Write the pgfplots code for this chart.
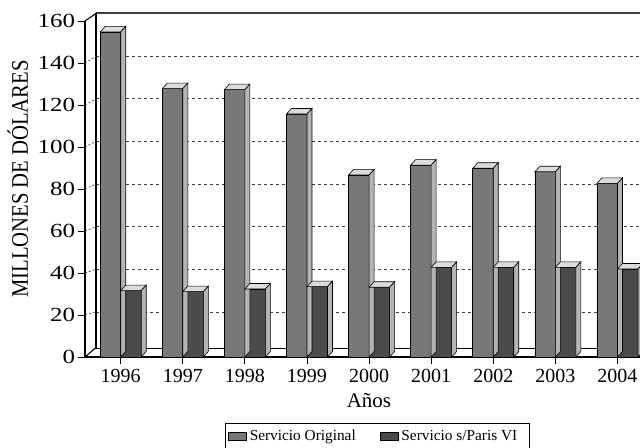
\documentclass[border=0pt]{standalone}
\usepackage{pgfplots}
\pgfplotsset{compat=1.18}
\usepackage{pgfplotstable}
\usepackage{fontspec}
\setmainfont{Liberation Serif}
\definecolor{origgray}{HTML}{787878}
\definecolor{parisgray}{HTML}{4B4B4B}
\definecolor{sidegray}{HTML}{B4B4B4}
\definecolor{topgray}{HTML}{DCDCDC}
\definecolor{gridgray}{HTML}{404040}

\pgfplotstableread{
x orig paris
0 154.8 31.6
1 127.8 31.1
2 127.3 32.4
3 115.7 33.5
4 86.7 33.2
5 91.4 42.7
6 89.9 42.7
7 88.2 42.7
8 82.7 41.9
}\bardata

\pgfdeclareplotmark{nomark}{}
% #1 left edge, #2 right edge of the front face, relative to the data point
\newcommand{\barthreeD}[2]{%
  \pgfmathsetlengthmacro\barH{\bary*1.575}%
  \path[fill=topgray,draw=black,line width=0.45pt] (#1,0pt) -- (#2,0pt) -- ++(3.75pt,4.125pt) -- ({#1+3.75pt},4.125pt) -- cycle;
  \path[fill=sidegray,draw=black,line width=0.45pt] (#2,0pt) -- ++(3.75pt,4.125pt) -- ++(0pt,-\barH) -- ++(-3.75pt,-4.125pt) -- cycle;
}

\begin{document}
\begin{tikzpicture}
% back wall with gridlines
\begin{axis}[
  at={(72pt,70pt)}, anchor=south west, scale only axis,
  width=408pt, height=256pt,
  xmin=0, xmax=1, ymin=0, ymax=160,
  xtick=\empty, ytick={20,40,...,140}, yticklabels={},
  major tick length=0pt,
  ymajorgrids, major grid style={gridgray, line width=0.6pt, dash pattern=on 2.5pt off 2pt},
  axis line style={draw=none},
]
\end{axis}
% walls and floor edges
\begin{scope}[yshift=336pt, x=0.75pt, y=-0.75pt]
  \draw[black!75, line width=1.4pt] (96,13.4) -- (640,13.4);
  \draw[black, line width=1.1pt] (96,13.4) -- (96,348);
  \draw[black, line width=0.6pt] (95,348) -- (640,348);
  \draw[black, line width=0.8pt] (85,21) -- (96,13.4);
  \draw[black, line width=0.8pt] (85,357) -- (95.5,348);
  \foreach \v in {20,40,...,140} {
    \draw[gridgray, line width=0.5pt, dash pattern=on 1.5pt off 1.5pt] (85,{357-2.1*\v}) -- (96,{354.7-2.133*\v});
  }
\end{scope}
% front: bars and axes
\begin{axis}[
  at={(63.75pt,68.25pt)}, anchor=south west, scale only axis,
  width=416.25pt, height=252pt,
  xmin=-0.5749, xmax=8.3623, ymin=0, ymax=160,
  clip=false,
  axis x line*=bottom, axis y line*=left,
  axis line style={-, black, line width=0.8pt},
  xtick={0,...,8},
  xticklabels={1996,1997,1998,1999,2000,2001,2002,2003,2004},
  ytick={0,20,...,160},
  tick align=outside, major tick length=5.25pt,
  tick style={black, line width=0.6pt},
  /pgf/number format/assume math mode=true,
  yticklabel style={font=\fontsize{15}{18}\selectfont, xscale=1.25, inner sep=0pt, xshift=-1.5pt},
  xticklabel style={font=\fontsize{15}{18}\selectfont, inner sep=0pt, yshift=-4pt},
  xlabel={Años},
  xlabel style={at={(axis description cs:0.5117,0)}, anchor=base, yshift=-38.25pt, font=\fontsize{15.75}{18}\selectfont},
  ylabel={MILLONES DE DÓLARES},
  ylabel style={at={(axis description cs:-0.1027,0.5298)}, anchor=base, font=\fontsize{15.5}{18}\selectfont, yscale=1.15},
  legend columns=2,
  legend cell align=left,
  legend style={at={(axis description cs:0.2523,-0.1964)}, anchor=north west, draw=black, line width=0.6pt, fill=white,
    font=\fontsize{11.5}{13}\selectfont, inner xsep=2pt, inner ysep=3pt,
    /tikz/every even column/.append style={column sep=16pt}},
]
\addplot[ybar, bar width=15.375pt, bar shift=-7.6875pt, fill=origgray, draw=black, line width=0.5pt,
  legend image code/.code={\draw[fill=origgray, draw=black, line width=0.5pt] (0pt,-3pt) rectangle (13.75pt,3pt);}]
  table[x=x,y=orig]{\bardata};
\addlegendentry{Servicio Original}
\addplot[forget plot, scatter, only marks, mark=nomark,
  visualization depends on={\thisrow{orig} \as \bary},
  scatter/@pre marker code/.code={\barthreeD{-15.375pt}{0pt}},
  scatter/@post marker code/.code={}]
  table[x=x,y=orig]{\bardata};
\addplot[ybar, bar width=15.375pt, bar shift=7.6875pt, fill=parisgray, draw=black, line width=0.5pt,
  legend image code/.code={\draw[fill=parisgray, draw=black, line width=0.5pt] (0pt,-3pt) rectangle (13.75pt,3pt);}]
  table[x=x,y=paris]{\bardata};
\addlegendentry{\makebox[92pt][l]{Servicio s/Paris VI}}
\addplot[forget plot, scatter, only marks, mark=nomark,
  visualization depends on={\thisrow{paris} \as \bary},
  scatter/@pre marker code/.code={\barthreeD{0pt}{15.375pt}},
  scatter/@post marker code/.code={}]
  table[x=x,y=paris]{\bardata};
\end{axis}
\pgfresetboundingbox
\path[use as bounding box] (0,0) rectangle (480pt,336pt);
\end{tikzpicture}
\end{document}
